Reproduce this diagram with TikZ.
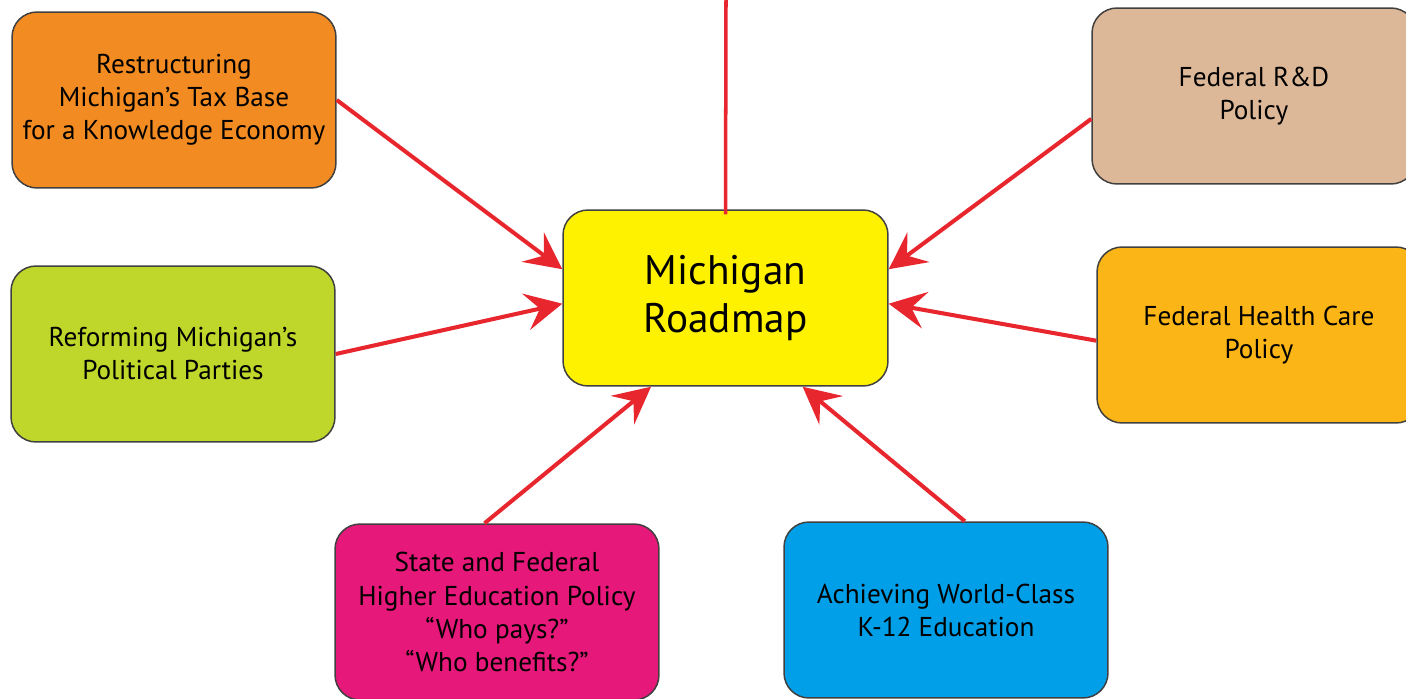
\documentclass[tikz,border=0pt]{standalone}
\usepackage{fontspec}
\setmainfont{PT Sans}
\usetikzlibrary{arrows.meta}

\definecolor{taxorange}{HTML}{F28B22}
\definecolor{partygreen}{HTML}{BED72A}
\definecolor{mapyellow}{HTML}{FFF200}
\definecolor{rdtan}{HTML}{DDB898}
\definecolor{healthgold}{HTML}{FCB516}
\definecolor{highermagenta}{HTML}{E6187A}
\definecolor{kblue}{HTML}{009FE8}
\definecolor{arrowred}{HTML}{E8262D}
\definecolor{edgegray}{HTML}{404040}

\begin{document}
\begin{tikzpicture}[x=0.02cm,y=-0.02cm,
  box/.style={draw=edgegray,line width=0.85pt,rounded corners=0.5cm,
    minimum width=6.48cm,minimum height=3.52cm,align=center,
    font=\fontsize{15.5}{18.8}\selectfont},
  feed/.style={arrowred,line width=2.3pt,
    -{Stealth[length=21pt,width=21pt,inset=8pt]}}]

  \useasboundingbox (0,0) rectangle (1406,699);

  \node[box,fill=mapyellow,minimum width=6.5cm,
    font=\fontsize{23.5}{27.3}\selectfont] (road) at (725.5,298) {Michigan\\Roadmap};

  \node[box,fill=taxorange] (tax) at (174,100)
    {Restructuring\\Michigan's Tax Base\\for a Knowledge Economy};
  \node[box,fill=partygreen] (party) at (173,354)
    {Reforming Michigan's\\Political Parties};
  \node[box,fill=rdtan] (rd) at (1254,96) {Federal R\&D\\Policy};
  \node[box,fill=healthgold] (health) at (1259,335) {Federal Health Care\\Policy};
  \node[box,fill=highermagenta] (higher) at (497,612)
    {State and Federal\\Higher Education Policy\\``Who pays?''\\``Who benefits?''};
  \node[box,fill=kblue] (kedu) at (946,610)
    {Achieving World-Class\\K-12 Education};

  \coordinate (top) at (726,0);
  \draw[arrowred,line width=2pt] (top) -- ([yshift=-0.1cm]road.north);

  \draw[feed] (tax.east) -- (road.170);
  \draw[feed] (party.east) -- (road.182);
  \draw[feed] (rd.188) -- (road.10);
  \draw[feed] (health.182) -- (road.358);
  \draw[feed] (higher.98) -- (road.230);
  \draw[feed] (kedu.78) -- (road.311);

\end{tikzpicture}
\end{document}
